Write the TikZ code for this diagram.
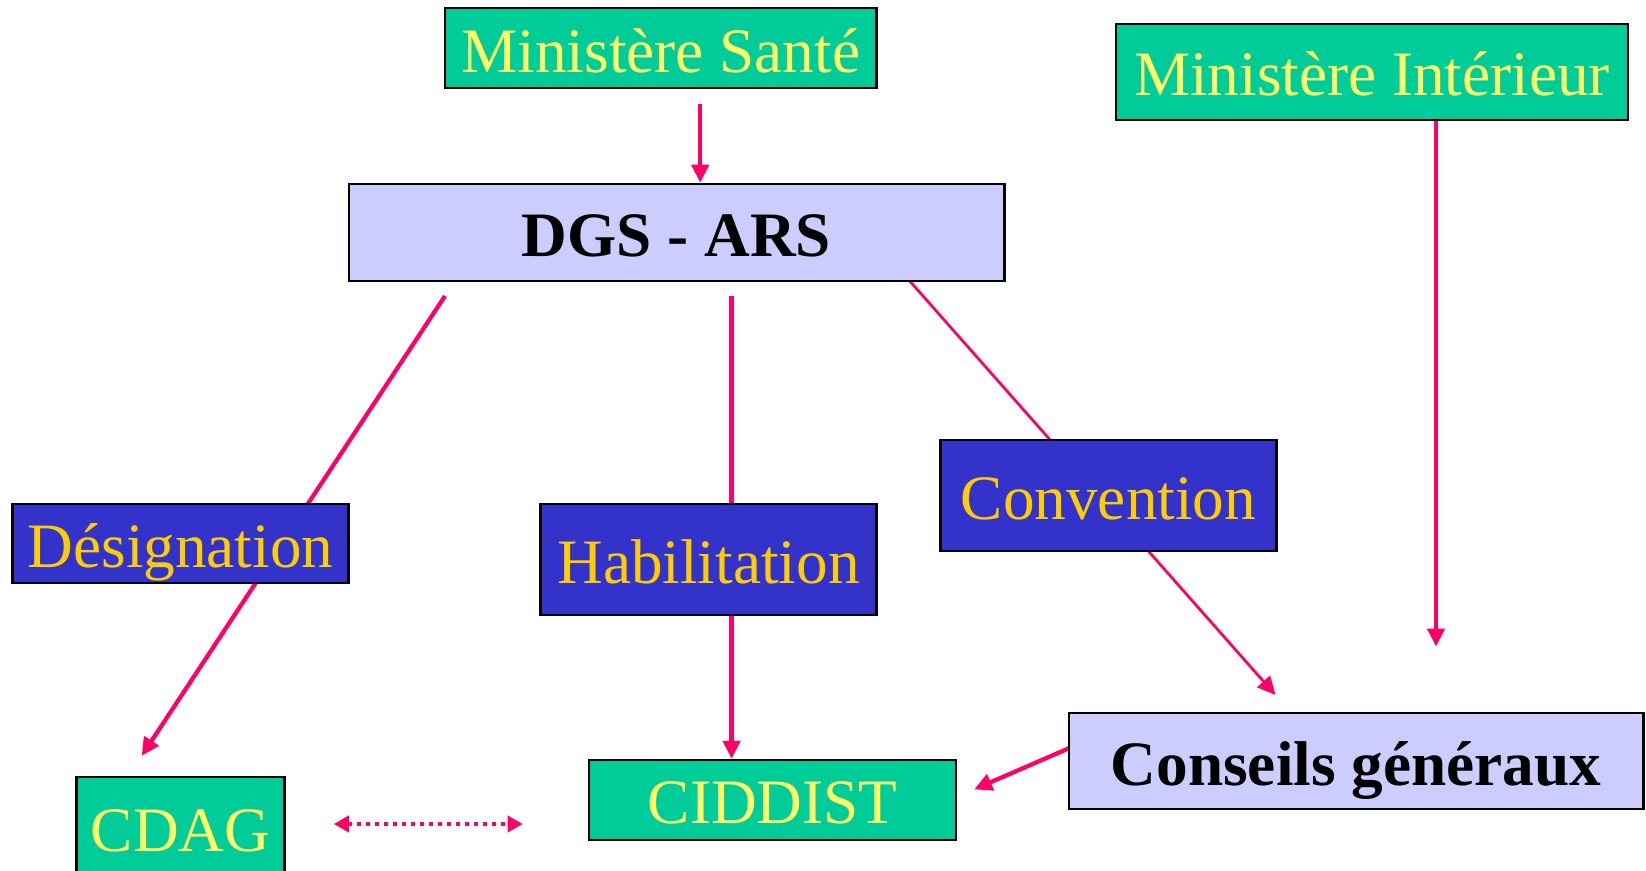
\documentclass[tikz,border=0pt]{standalone}
\usepackage{fontspec}
\setmainfont{Liberation Serif}
\usetikzlibrary{arrows.meta,positioning,backgrounds}
\definecolor{vert}{HTML}{00CC99}
\definecolor{jaune}{HTML}{FFFF66}
\definecolor{lila}{HTML}{CCCCFF}
\definecolor{bleu}{HTML}{3333CC}
\definecolor{or}{HTML}{FFCC00}
\definecolor{rose}{HTML}{FF0066}
\tikzset{
    txt/.style={inner sep=0pt, text height=1.16cm, text depth=0.2cm, text centered,
    line width=1.2pt},
    greenbox/.style={txt, draw, fill=vert, text=jaune,
    font=\fontsize{36}{43}\selectfont},
    lilabox/.style={txt, draw, fill=lila, text=black,
    font=\fontsize{36}{43}\selectfont\bfseries},
    bluebox/.style={txt, draw, fill=bleu, text=or,
    font=\fontsize{36}{43}\selectfont, minimum width=6.72cm},
    link/.style={draw=rose, line width=0.085cm},
    thinlink/.style={draw=rose, line width=0.055cm},
    dotlink/.style={draw=rose, line width=0.08cm, dash pattern=on 0.08cm off 0.1cm,
    {Triangle[length=0.3cm,width=0.32cm]}-{Triangle[length=0.3cm,width=0.32cm]}}
}
\begin{document}
\begin{tikzpicture}[x=0.02cm,y=-0.02cm,>={Triangle[length=0.36cm,width=0.34cm]}]
    \useasboundingbox (0,0) rectangle (1646,871);
    \node (MS) [greenbox,minimum width=8.63cm,minimum height=1.6cm] at (660.8,48.3) {Ministère Santé};
    \node (MI) [greenbox,minimum width=10.24cm,minimum height=1.91cm] at (1372,71.9) {Ministère Intérieur};
    \node (DGS) [lilabox,minimum width=13.12cm,minimum height=1.95cm] at (676.5,232.5) {DGS - ARS};
    \node (desig) [bluebox,minimum height=1.59cm] at (180.5,543.7) {Désignation};
    \node (habil) [bluebox,minimum height=2.22cm] at (708.5,559.5) {Habilitation};
    \node (conv) [bluebox,minimum height=2.22cm] at (1108.5,495.5) {Convention};
    \node (CG) [lilabox,minimum width=11.5cm,minimum height=1.93cm] at (1356,761) {Conseils généraux};
    \node (CID) [greenbox,minimum width=7.35cm,minimum height=1.6cm] at (772.6,799.9) {CIDDIST};
    \node (CDAG) [greenbox,minimum width=4.16cm,minimum height=2cm] at (180.5,827) {CDAG};
    \coordinate (s1) at (700.2,103.9);
    \coordinate (s2) at (445,296);
    \coordinate (t2) at (141.7,755.8);
    \coordinate (s3) at (731.6,296);
    \coordinate (s4) at (910,281.3);
    \coordinate (t4) at (1275.4,694.9);
    \coordinate (t5) at (1436,646.6);
    \coordinate (s6) at (1068.6,748.4);
    \coordinate (t6) at (974.1,789.4);
    \coordinate (L) at (333.8,824);
    \coordinate (R) at (522.7,824);
    \begin{pgfonlayer}{background}
    \fill[white] (0,0) rectangle (1646,871);
    \path (s1) edge [link,->] (s1 |- DGS.north);
    \path (s2) edge [link,->] (t2);
    \path (s3) edge [link,->] (s3 |- CID.north);
    \path (s4) edge [thinlink,->] (t4);
    \path (t5 |- MI.south) edge [link,->] (t5);
    \path (s6) edge [link,->] (t6);
    \path (L) edge [dotlink] (R);
    \end{pgfonlayer}
\end{tikzpicture}
\end{document}
